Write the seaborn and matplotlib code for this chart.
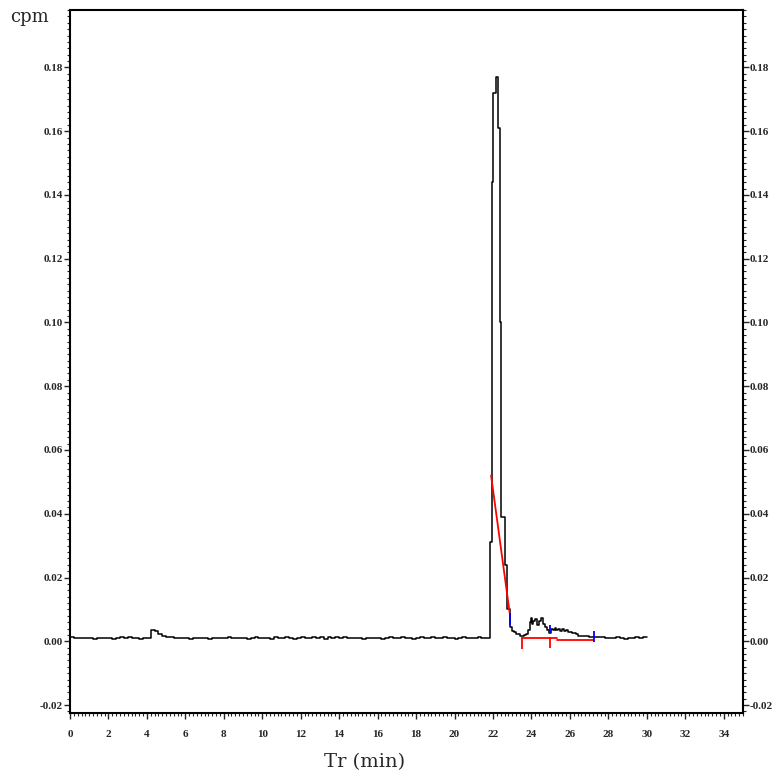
import numpy as np
import pandas as pd
import matplotlib
matplotlib.use("Agg")
import matplotlib.pyplot as plt
from matplotlib.ticker import MultipleLocator, StrMethodFormatter
import seaborn as sns

# radio-chromatogram trace
base_time = [0.0, 0.2, 0.4, 0.6, 0.8, 1.0, 1.2, 1.4, 1.6, 1.8,
             2.0, 2.2, 2.4, 2.6, 2.8, 3.0, 3.2, 3.4, 3.6, 3.8,
             4.0, 4.2, 4.4, 4.6, 4.8, 5.0, 5.2, 5.4, 5.6, 5.8,
             6.0, 6.2, 6.4, 6.6, 6.8, 7.0, 7.2, 7.4, 7.6, 7.8,
             8.0, 8.2, 8.4, 8.6, 8.8, 9.0, 9.2, 9.4, 9.6, 9.8,
             10.0, 10.2, 10.4, 10.6, 10.8, 11.0, 11.2, 11.4, 11.6, 11.8,
             12.0, 12.2, 12.4, 12.6, 12.8, 13.0, 13.2, 13.4, 13.6, 13.8,
             14.0, 14.2, 14.4, 14.6, 14.8, 15.0, 15.2, 15.4, 15.6, 15.8,
             16.0, 16.2, 16.4, 16.6, 16.8, 17.0, 17.2, 17.4, 17.6, 17.8,
             18.0, 18.2, 18.4, 18.6, 18.8, 19.0, 19.2, 19.4, 19.6, 19.8,
             20.0, 20.2, 20.4, 20.6, 20.8, 21.0, 21.2, 21.4, 21.6]
base_cpm = [0.0012, 0.0010, 0.0011, 0.0009, 0.0011, 0.0010, 0.0008, 0.0010, 0.0011, 0.0009,
            0.0010, 0.0008, 0.0010, 0.0014, 0.0011, 0.0013, 0.0009, 0.0010, 0.0008, 0.0010,
            0.0011, 0.0036, 0.0032, 0.0024, 0.0018, 0.0015, 0.0012, 0.0010, 0.0010, 0.0010,
            0.0009, 0.0007, 0.0010, 0.0009, 0.0010, 0.0010, 0.0007, 0.0010, 0.0011, 0.0009,
            0.0010, 0.0013, 0.0010, 0.0009, 0.0009, 0.0011, 0.0008, 0.0010, 0.0012, 0.0009,
            0.0010, 0.0011, 0.0008, 0.0012, 0.0009, 0.0010, 0.0013, 0.0010, 0.0008, 0.0011,
            0.0012, 0.0009, 0.0010, 0.0013, 0.0009, 0.0014, 0.0008, 0.0013, 0.0009, 0.0014,
            0.0009, 0.0012, 0.0010, 0.0010, 0.0009, 0.0010, 0.0008, 0.0009, 0.0010, 0.0010,
            0.0009, 0.0008, 0.0010, 0.0012, 0.0010, 0.0010, 0.0013, 0.0010, 0.0010, 0.0008,
            0.0011, 0.0013, 0.0010, 0.0009, 0.0012, 0.0011, 0.0010, 0.0012, 0.0010, 0.0011,
            0.0008, 0.0010, 0.0012, 0.0011, 0.0010, 0.0009, 0.0012, 0.0010, 0.0011]

peak_time = [21.82, 21.94, 22.02, 22.15, 22.25, 22.35, 22.43, 22.64, 22.74, 22.9,
             23.0, 23.1, 23.2, 23.3, 23.4, 23.5, 23.6,
             23.7, 23.8, 23.9, 24.0, 24.05, 24.1, 24.2, 24.3, 24.4, 24.5,
             24.6, 24.7, 24.8, 24.9, 25.0, 25.1, 25.2, 25.3, 25.4, 25.5,
             25.6, 25.7, 25.8, 25.9, 26.0, 26.1, 26.2, 26.3, 26.4, 26.5,
             26.6, 26.8, 27.0, 27.2, 27.4, 27.6, 27.8, 28.0, 28.2, 28.4,
             28.6, 28.8, 29.0, 29.2, 29.4, 29.6, 29.8, 30.0]
peak_cpm = [0.0310, 0.1440, 0.1720, 0.1770, 0.1610, 0.1000, 0.0390, 0.0240, 0.0100, 0.0045,
            0.0032, 0.0028, 0.0022, 0.0023, 0.0018, 0.0016, 0.0020,
            0.0024, 0.0035, 0.0060, 0.0072, 0.0055, 0.0065, 0.0070, 0.0050, 0.0065, 0.0072,
            0.0055, 0.0045, 0.0035, 0.0026, 0.0040, 0.0036, 0.0042, 0.0034, 0.0040, 0.0033,
            0.0038, 0.0032, 0.0034, 0.0029, 0.0030, 0.0026, 0.0026, 0.0022, 0.0018, 0.0016,
            0.0017, 0.0016, 0.0014, 0.0015, 0.0012, 0.0013, 0.0010, 0.0011, 0.0010, 0.0014,
            0.0010, 0.0008, 0.0011, 0.0010, 0.0013, 0.0010, 0.0014, 0.0013]

# integration marks (red baselines, blue peak limits)
red_diag_t = [21.9, 22.87]
red_diag_v = [0.052, 0.0088]
red_base1_t = [23.5, 25.35]
red_base1_v = [0.0009, 0.0009]
red_base2_t = [25.35, 27.2]
red_base2_v = [0.0003, 0.0003]
red_tick_t = [23.5, 24.97]
red_tick_lo = [-0.0025, -0.0020]
red_tick_hi = [0.0013, 0.0013]
blue_tick_t = [22.9, 24.97, 27.24]
blue_tick_lo = [0.0050, 0.0025, -0.0003]
blue_tick_hi = [0.0090, 0.0052, 0.0031]

df = pd.DataFrame({"Tr": base_time + peak_time, "cpm": base_cpm + peak_cpm})

sns.set_style("ticks")
plt.rcParams["font.family"] = ["Liberation Serif", "DejaVu Serif"]
plt.rcParams["axes.unicode_minus"] = False

fig = plt.figure(figsize=(7.74, 7.71), dpi=100)
ax = fig.add_axes([0.0904, 0.0752, 0.8695, 0.9118])

sns.lineplot(data=df, x="Tr", y="cpm", color="black", linewidth=1.1,
             drawstyle="steps-post", ax=ax)

ax.plot(red_diag_t, red_diag_v, color="red", linewidth=1.3)
ax.plot(red_base1_t, red_base1_v, color="red", linewidth=1.3)
ax.plot(red_base2_t, red_base2_v, color="red", linewidth=1.3)
ax.vlines(red_tick_t, red_tick_lo, red_tick_hi, color="red", linewidth=1.3)
ax.vlines(blue_tick_t, blue_tick_lo, blue_tick_hi, color="blue", linewidth=1.3)

ax.set_xlim(0, 35)
ax.set_ylim(-0.0225, 0.198)
ax.xaxis.set_major_locator(MultipleLocator(2))
ax.xaxis.set_minor_locator(MultipleLocator(0.2))
ax.yaxis.set_major_locator(MultipleLocator(0.02))
ax.yaxis.set_minor_locator(MultipleLocator(0.002))
ax.yaxis.set_major_formatter(StrMethodFormatter("{x:.2f}"))

for s in ax.spines.values():
    s.set_visible(True)
    s.set_linewidth(1.5)
    s.set_color("black")

ax.tick_params(axis="both", which="major", direction="out", length=4, width=1,
               labelsize=8, pad=2)
ax.tick_params(axis="both", which="minor", direction="out", length=2.5, width=0.8)
ax.tick_params(axis="y", which="both", left=True, right=True, labelleft=True,
               labelright=True)
ax.tick_params(axis="x", which="both", top=False, pad=8)
for lab in ax.yaxis.get_majorticklabels():
    pass
for lab in ax.get_xticklabels() + ax.get_yticklabels():
    lab.set_fontweight("bold")
# right-hand labels sit tight against the frame
for t in ax.yaxis.get_major_ticks():
    t.label2.set_fontweight("bold")
    t.set_pad(1)

ax.set_xlabel("")
ax.set_ylabel("")
fig.text(365 / 774, 1 - 762 / 771, "Tr (min)", fontsize=14, family="DejaVu Serif",
         ha="center", va="center")
fig.text(10 / 774, 1 - 17 / 771, "cpm", fontsize=13, family="DejaVu Serif",
         ha="left", va="center")

fig.savefig("out.png", dpi=100)
